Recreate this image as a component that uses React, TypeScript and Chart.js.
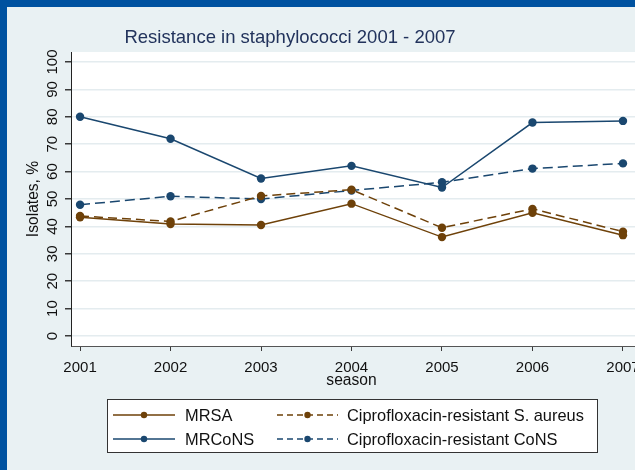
import React, { useEffect, useRef } from "react";
import { Chart, registerables } from "chart.js";
Chart.register(...registerables);

// ---- data ----
const years = [2001, 2002, 2003, 2004, 2005, 2006, 2007];
const mrsa = [43.3, 40.9, 40.5, 48.3, 36.1, 45.0, 36.8];
const ciproSA = [43.8, 41.8, 51.1, 53.4, 39.5, 46.4, 38.1];
const mrcons = [80.0, 72.0, 57.5, 62.1, 54.2, 77.9, 78.5];
const ciproCoNS = [47.9, 51.0, 50.0, 53.1, 56.1, 61.1, 63.0];
const yTicks = [0, 10, 20, 30, 40, 50, 60, 70, 80, 90, 100];
const seriesLabels = [
  "MRSA",
  "Ciprofloxacin-resistant S. aureus",
  "MRCoNS",
  "Ciprofloxacin-resistant CoNS",
];
const titleText = "Resistance in staphylococci 2001 - 2007";
const xTitle = "season";
const yTitle = "Isolates, %";

const BROWN = "#6e4109";
const NAVY = "#1a476f";
const BG = "#e9f1f3";
const FRAME = "#0052a0";
const GRID = "#e4ecef";
const AXIS = "#3a3a3a";
const FONT = '"Liberation Sans", Arial, sans-serif';

const toXY = (vals: number[]) => vals.map((v, i) => ({ x: years[i], y: v }));

const decoPlugin = {
  id: "deco",
  beforeDraw(chart: any) {
    const { ctx, chartArea: a } = chart;
    ctx.save();
    ctx.fillStyle = "#ffffff";
    ctx.fillRect(a.left, a.top, a.right - a.left, a.bottom - a.top);
    ctx.restore();
  },
  afterDraw(chart: any) {
    const ctx = chart.ctx;
    const ys = chart.scales.y;
    const xs = chart.scales.x;
    ctx.save();
    // title
    ctx.fillStyle = "#22335c";
    ctx.font = `18.5px ${FONT}`;
    ctx.textAlign = "center";
    ctx.textBaseline = "alphabetic";
    ctx.fillText(titleText, 290, 43);

    // y tick labels (rotated)
    ctx.fillStyle = "#111";
    ctx.font = `15px ${FONT}`;
    for (const v of yTicks) {
      const py = ys.getPixelForValue(v);
      ctx.save();
      ctx.translate(53, py);
      ctx.rotate(-Math.PI / 2);
      ctx.textAlign = "center";
      ctx.textBaseline = "middle";
      ctx.fillText(String(v), 0, 0);
      ctx.restore();
    }
    // y title
    ctx.font = `15.6px ${FONT}`;
    ctx.save();
    ctx.translate(34, ys.getPixelForValue(50));
    ctx.rotate(-Math.PI / 2);
    ctx.textAlign = "center";
    ctx.textBaseline = "middle";
    ctx.fillText(yTitle, 0, 0);
    ctx.restore();

    // x title
    ctx.textAlign = "center";
    ctx.textBaseline = "middle";
    ctx.fillText(xTitle, xs.getPixelForValue(2004), 381);

    // legend
    const lx = 107, ly = 399, lw = 490, lh = 53;
    ctx.fillStyle = "#ffffff";
    ctx.fillRect(lx, ly, lw, lh);
    ctx.strokeStyle = "#333";
    ctx.lineWidth = 1;
    ctx.strokeRect(lx + 0.5, ly + 0.5, lw, lh);
    const cols = [
      { l0: 113, l1: 175, txt: 185 },
      { l0: 277, l1: 338, txt: 347 },
    ];
    const rows = [415, 439];
    const order = [0, 1, 2, 3];
    order.forEach((di, k) => {
      const ds = chart.data.datasets[di];
      const c = cols[k % 2];
      const ry = rows[Math.floor(k / 2)];
      ctx.save();
      ctx.strokeStyle = ds.borderColor;
      ctx.lineWidth = 1.5;
      ctx.setLineDash(ds.borderDash && ds.borderDash.length ? [6, 4] : []);
      ctx.beginPath();
      ctx.moveTo(c.l0, ry);
      ctx.lineTo(c.l1, ry);
      ctx.stroke();
      ctx.setLineDash([]);
      ctx.fillStyle = ds.borderColor;
      ctx.beginPath();
      ctx.arc((c.l0 + c.l1) / 2, ry, 3.2, 0, Math.PI * 2);
      ctx.fill();
      ctx.restore();
      ctx.fillStyle = "#111";
      ctx.font = `16.4px ${FONT}`;
      ctx.textAlign = "left";
      ctx.textBaseline = "middle";
      ctx.fillText(ds.label, c.txt, ry + 1);
    });
    ctx.restore();
  },
};

export default function App() {
  const ref = useRef<HTMLCanvasElement | null>(null);
  useEffect(() => {
    if (!ref.current) return;
    const mk = (label: string, vals: number[], color: string, dash: number[]) => ({
      label,
      data: toXY(vals),
      borderColor: color,
      backgroundColor: color,
      borderWidth: 1.5,
      borderDash: dash,
      pointRadius: 4.2,
      pointBorderWidth: 0,
      pointBackgroundColor: color,
      tension: 0,
    });
    const chart = new Chart(ref.current, {
      type: "line",
      data: {
        datasets: [
          mk(seriesLabels[0], mrsa, BROWN, []),
          mk(seriesLabels[1], ciproSA, BROWN, [9, 5]),
          mk(seriesLabels[2], mrcons, NAVY, []),
          mk(seriesLabels[3], ciproCoNS, NAVY, [10, 5]),
        ],
      },
      options: {
        animation: false,
        responsive: false,
        maintainAspectRatio: false,
        layout: { padding: { top: 52, right: 64, left: 0, bottom: 0 } },
        plugins: { legend: { display: false }, title: { display: false }, tooltip: { enabled: false } },
        scales: {
          x: {
            type: "linear",
            min: 2000.9,
            max: 2007.144,
            afterBuildTicks: (s: any) => {
              s.ticks = years.map((v) => ({ value: v }));
            },
            afterFit: (s: any) => {
              s.height = 124;
            },
            grid: { drawOnChartArea: false, drawTicks: true, tickLength: 5, tickColor: AXIS },
            border: { display: true, color: "#555", width: 1 },
            ticks: {
              color: "#111",
              font: { family: FONT, size: 15 },
              padding: 8,
              maxRotation: 0,
              minRotation: 0,
              callback: (v: any) => String(v),
            },
          },
          y: {
            type: "linear",
            min: -3.65,
            max: 103.65,
            afterBuildTicks: (s: any) => {
              s.ticks = yTicks.map((v) => ({ value: v }));
            },
            afterFit: (s: any) => {
              s.width = 71;
            },
            grid: { color: GRID, lineWidth: 1.5, drawTicks: true, tickLength: 6, tickColor: AXIS },
            border: { display: true, color: "#222", width: 1 },
            ticks: { display: false },
          },
        },
      },
      plugins: [decoPlugin],
    } as any);
    return () => chart.destroy();
  }, []);

  return (
    <div
      style={{
        position: "fixed",
        left: 0,
        top: 0,
        width: 635,
        height: 470,
        overflow: "hidden",
        background: BG,
      }}
    >
      <canvas ref={ref} width={700} height={470} style={{ position: "absolute", left: 0, top: 0, width: 700, height: 470 }} />
      <div style={{ position: "absolute", left: 0, top: 0, width: 7, height: 470, background: FRAME }} />
      <div style={{ position: "absolute", left: 0, top: 0, width: 635, height: 7, background: FRAME }} />
    </div>
  );
}
